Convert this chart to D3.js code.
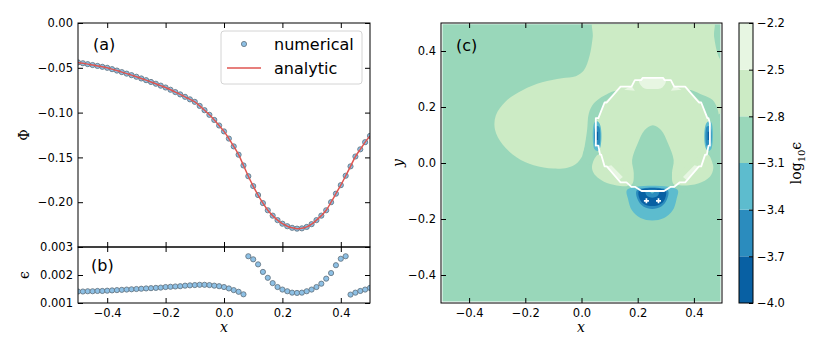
<!DOCTYPE html>
<html>
<head>
<meta charset="utf-8">
<script src="https://cdn.jsdelivr.net/npm/d3@7"></script>
<style>
	body { margin: 0; background: #fff; }
	svg { display: block; }
	text { font-family: "DejaVu Sans", sans-serif; fill: #000; }
	.tick text { font-size: 11.5px; }
	.math { font-family: "DejaVu Serif", serif; }
</style>
</head>
<body>
<svg id="fig" width="830" height="356"></svg>
<script>
'use strict';

// ---- line cut along y = 0 : panels (a) and (b) ----
var xs = [-0.5000, -0.4833, -0.4667, -0.4500, -0.4333, -0.4167, -0.4000, -0.3833, -0.3667, -0.3500,
	-0.3333, -0.3167, -0.3000, -0.2833, -0.2667, -0.2500, -0.2333, -0.2167, -0.2000, -0.1833,
	-0.1667, -0.1500, -0.1333, -0.1167, -0.1000, -0.0833, -0.0667, -0.0500, -0.0333, -0.0167,
	0.0000, 0.0167, 0.0333, 0.0500, 0.0667, 0.0833, 0.1000, 0.1167, 0.1333, 0.1500,
	0.1667, 0.1833, 0.2000, 0.2167, 0.2333, 0.2500, 0.2667, 0.2833, 0.3000, 0.3167,
	0.3333, 0.3500, 0.3667, 0.3833, 0.4000, 0.4167, 0.4333, 0.4500, 0.4667, 0.4833, 0.5000];

var phiNumerical = [-0.0440, -0.0449, -0.0459, -0.0469, -0.0479, -0.0489, -0.0500, -0.0515, -0.0531, -0.0548,
	-0.0565, -0.0582, -0.0600, -0.0619, -0.0638, -0.0658, -0.0678, -0.0699, -0.0720, -0.0745,
	-0.0771, -0.0797, -0.0824, -0.0852, -0.0880, -0.0925, -0.0973, -0.1025, -0.1082, -0.1144,
	-0.1210, -0.1290, -0.1377, -0.1470, -0.1590, -0.1710, -0.1820, -0.1920, -0.2010, -0.2090,
	-0.2150, -0.2200, -0.2240, -0.2268, -0.2286, -0.2295, -0.2292, -0.2276, -0.2245, -0.2200,
	-0.2150, -0.2090, -0.2000, -0.1905, -0.1810, -0.1705, -0.1600, -0.1490, -0.1410, -0.1330, -0.1260];

// analytic curve sits on top of the numerical points
var phiAnalytic = phiNumerical.slice();

var epsNumerical = [0.00141, 0.00141, 0.00142, 0.00142, 0.00143, 0.00143, 0.00144, 0.00145, 0.00146, 0.00147,
	0.00148, 0.00149, 0.00150, 0.00151, 0.00152, 0.00153, 0.00154, 0.00155, 0.00157, 0.00158,
	0.00159, 0.00160, 0.00162, 0.00163, 0.00164, 0.00165, 0.00165, 0.00164, 0.00162, 0.00160,
	0.00157, 0.00152, 0.00146, 0.00140, 0.00131, 0.00267, 0.00256, 0.00238, 0.00211, 0.00190,
	0.00171, 0.00157, 0.00148, 0.00142, 0.00137, 0.00136, 0.00137, 0.00142, 0.00148, 0.00157,
	0.00169, 0.00187, 0.00207, 0.00235, 0.00258, 0.00267, 0.00130, 0.00137, 0.00143, 0.00148, 0.00154];

var xTicks = [-0.4, -0.2, 0.0, 0.2, 0.4];
var phiTicks = [0.00, -0.05, -0.10, -0.15, -0.20];
var epsTicks = [0.001, 0.002, 0.003];
var yTicksC = [-0.4, -0.2, 0.0, 0.2, 0.4];

// ---- panel (c): filled contours of log10(eps) ----
var bandLevels = [-4.0, -3.7, -3.4, -3.1, -2.8, -2.5, -2.2];
var bandColors = ['#0860a3', '#2b8cbe', '#5dbcce', '#99d7ba', '#ccebc5', '#e7f6e2'];

// contour outlines, in (x, y) data units
var fieldRegion = [[-0.5, -0.5], [0.5, -0.5], [0.5, 0.5], [-0.5, 0.5]];
var lightLobe = [[0.045, 0.52], [0.466, 0.52], [0.472, 0.45], [0.488, 0.38], [0.52, 0.33], [0.52, 0.2],
	[0.3, 0.12], [0.1, 0.1], [0.02, 0.07], [0.003, 0.025], [-0.02, -0.004], [-0.05, -0.017],
	[-0.1, -0.02], [-0.17, -0.008], [-0.23, 0.02], [-0.28, 0.065], [-0.308, 0.12], [-0.305, 0.17],
	[-0.27, 0.22], [-0.21, 0.26], [-0.14, 0.288], [-0.07, 0.303], [-0.02, 0.31], [0.008, 0.33],
	[0.028, 0.38], [0.04, 0.45]];
var haloLeft = [[0.127, 0.258], [0.08, 0.24], [0.044, 0.213], [0.026, 0.177], [0.02, 0.118],
	[0.011, 0.058], [0.004, 0.02], [0.02, -0.002], [0.045, -0.006], [0.1, 0.03], [0.12, 0.15], [0.15, 0.24]];
var haloRight = [[0.377, 0.261], [0.431, 0.243], [0.467, 0.225], [0.485, 0.189], [0.49, 0.154],
	[0.497, 0.08], [0.496, 0.0], [0.47, -0.02], [0.42, 0.0], [0.4, 0.1], [0.36, 0.24]];
var innerDisc = [[0.457, 0.142], [0.426, 0.216], [0.369, 0.273], [0.294, 0.304], [0.214, 0.304],
	[0.139, 0.273], [0.082, 0.216], [0.051, 0.142], [0.051, 0.062], [0.082, -0.012],
	[0.139, -0.069], [0.214, -0.100], [0.294, -0.100], [0.369, -0.069], [0.426, -0.012], [0.457, 0.062]];
// the drawn boundary is pixel-stepped, unlike the smooth disc
var boundary = [[0.457, 0.142], [0.452, 0.16], [0.448, 0.16], [0.426, 0.216], [0.418, 0.216],
	[0.369, 0.273], [0.33, 0.273], [0.318, 0.296], [0.296, 0.296], [0.29, 0.304], [0.218, 0.304],
	[0.212, 0.296], [0.19, 0.296], [0.178, 0.273], [0.139, 0.273], [0.09, 0.216], [0.082, 0.216],
	[0.06, 0.16], [0.051, 0.16], [0.051, 0.062], [0.06, 0.062], [0.066, 0.03], [0.07, 0.03],
	[0.082, -0.012], [0.09, -0.012], [0.139, -0.069], [0.16, -0.069], [0.178, -0.085], [0.19, -0.085],
	[0.214, -0.100], [0.294, -0.100], [0.318, -0.085], [0.33, -0.085], [0.35, -0.069], [0.369, -0.069],
	[0.418, -0.012], [0.426, -0.012], [0.44, 0.03], [0.446, 0.03], [0.452, 0.062], [0.457, 0.062]];
var tongue = [[0.13, -0.1], [0.14, -0.083], [0.18, -0.076], [0.186, -0.037], [0.18, 0.011],
	[0.2, 0.07], [0.225, 0.118], [0.254, 0.135], [0.283, 0.118], [0.308, 0.07], [0.328, 0.011],
	[0.322, -0.037], [0.328, -0.076], [0.368, -0.083], [0.378, -0.1]];
var earLeft = [[0.04, 0.0], [0.038, -0.022], [0.05, -0.045], [0.08, -0.067], [0.125, -0.08],
	[0.165, -0.08], [0.17, -0.05], [0.1, 0.02], [0.06, 0.03]];
var earRight = [[0.466, 0.0], [0.469, -0.02], [0.457, -0.049], [0.415, -0.073], [0.356, -0.08],
	[0.335, -0.075], [0.338, -0.05], [0.41, 0.02], [0.45, 0.03]];
var paleTop = [[0.205, 0.296], [0.3, 0.296], [0.288, 0.27], [0.254, 0.264], [0.218, 0.27]];
var paleTopLeft = [[0.152, 0.262], [0.178, 0.276], [0.19, 0.258]];
var paleTopRight = [[0.356, 0.262], [0.33, 0.276], [0.318, 0.258]];
var paleLowLeft = [[0.092, -0.012], [0.106, -0.008], [0.147, -0.05], [0.135, -0.06]];
var paleLowRight = [[0.416, -0.012], [0.402, -0.008], [0.361, -0.05], [0.373, -0.06]];
var streakLeftOuter = [[0.046, 0.145], [0.058, 0.148], [0.068, 0.13], [0.068, 0.06], [0.058, 0.043], [0.046, 0.05]];
var streakLeftMid = [[0.05, 0.13], [0.062, 0.13], [0.062, 0.06], [0.05, 0.06]];
var streakLeftCore = [[0.054, 0.112], [0.059, 0.112], [0.059, 0.082], [0.054, 0.082]];
var streakRightOuter = [[0.462, 0.145], [0.45, 0.148], [0.44, 0.13], [0.44, 0.06], [0.45, 0.043], [0.462, 0.05]];
var streakRightMid = [[0.458, 0.13], [0.446, 0.13], [0.446, 0.06], [0.458, 0.06]];
var streakRightCore = [[0.454, 0.112], [0.449, 0.112], [0.449, 0.082], [0.454, 0.082]];
var padOuter = [[0.163, -0.095], [0.166, -0.13], [0.18, -0.17], [0.21, -0.196], [0.252, -0.205],
	[0.294, -0.196], [0.324, -0.17], [0.338, -0.13], [0.341, -0.095]];
var padMid = [[0.197, -0.097], [0.2, -0.13], [0.22, -0.155], [0.252, -0.164], [0.284, -0.155],
	[0.304, -0.13], [0.307, -0.097]];
var padCore = [[0.205, -0.099], [0.208, -0.13], [0.225, -0.148], [0.252, -0.154], [0.279, -0.148],
	[0.296, -0.13], [0.299, -0.099]];
var padHole = [[0.228, -0.099], [0.232, -0.116], [0.252, -0.124], [0.272, -0.116], [0.276, -0.099]];
var padDot = [[0.242, -0.099], [0.252, -0.109], [0.262, -0.099]];
var sources = [[0.231, -0.135], [0.274, -0.135]];
var cbTicks = [-4.0, -3.7, -3.4, -3.1, -2.8, -2.5, -2.2];

// draw order, with the log10(eps) value that fills each outline
var layers = [
	[fieldRegion, -2.95, false],
	[lightLobe, -2.65, true],
	[haloLeft, -2.95, true],
	[haloRight, -2.95, true],
	[innerDisc, -2.65, false],
	[tongue, -2.95, true],
	[earLeft, -2.65, true],
	[earRight, -2.65, true],
	[paleTop, -2.35, true],
	[paleTopLeft, -2.35, false],
	[paleTopRight, -2.35, false],
	[paleLowLeft, -2.35, false],
	[paleLowRight, -2.35, false],
	[streakLeftOuter, -3.25, true],
	[streakRightOuter, -3.25, true],
	[streakLeftMid, -3.55, true],
	[streakRightMid, -3.55, true],
	[streakLeftCore, -3.85, false],
	[streakRightCore, -3.85, false],
	[padOuter, -3.25, true],
	[padMid, -3.55, true],
	[padCore, -3.85, true],
	[padHole, -3.55, true],
	[padDot, -3.25, true]
];

var svg = d3.select('#fig');
svg.append('rect').attr('width', 830).attr('height', 356).attr('fill', '#fff');

var tick = 5;

// inward ticks on all four sides of a box
function frame(g, x, y, xt, yt, fx, fy, opts) {
	var x0 = x.range()[0], x1 = x.range()[1], y0 = y.range()[1], y1 = y.range()[0];
	var bottom = d3.axisBottom(x).tickValues(xt).tickSize(-tick).tickPadding(6).tickSizeOuter(0)
		.tickFormat(opts.xLabels ? fx : '');
	var top = d3.axisTop(x).tickValues(xt).tickSize(-tick).tickSizeOuter(0).tickFormat('');
	var left = d3.axisLeft(y).tickValues(yt).tickSize(-tick).tickPadding(5).tickSizeOuter(0).tickFormat(fy);
	var right = d3.axisRight(y).tickValues(yt).tickSize(-tick).tickSizeOuter(0).tickFormat('');
	[[bottom, 'translate(0,' + y1 + ')'], [top, 'translate(0,' + y0 + ')'],
		[left, 'translate(' + x0 + ',0)'], [right, 'translate(' + x1 + ',0)']].forEach(function (a) {
		var ax = g.append('g').attr('transform', a[1]).call(a[0]);
		ax.select('.domain').remove();
		ax.selectAll('.tick line').attr('stroke', '#000').attr('stroke-width', 1);
		ax.selectAll('.tick text').attr('font-family', null).attr('font-size', null);
	});
	g.append('rect')
		.attr('x', x0).attr('y', y0)
		.attr('width', x1 - x0).attr('height', y1 - y0)
		.attr('fill', 'none').attr('stroke', '#000').attr('stroke-width', 1);
}

// ---------- panel (a) ----------
var xA = d3.scaleLinear().domain([-0.5, 0.5]).range([78, 370]);
var yA = d3.scaleLinear().domain([-0.25, 0]).range([247, 23]);
var yB = d3.scaleLinear().domain([0.001, 0.003]).range([303, 247]);

var defs = svg.append('defs');
defs.append('clipPath').attr('id', 'clipA').append('rect')
	.attr('x', 78).attr('y', 23).attr('width', 292).attr('height', 224);
defs.append('clipPath').attr('id', 'clipB').append('rect')
	.attr('x', 78).attr('y', 247).attr('width', 292).attr('height', 56);

var pa = svg.append('g');
var pts = xs.map(function (x, i) { return { x: x, phi: phiNumerical[i], an: phiAnalytic[i], eps: epsNumerical[i] }; });

pa.append('g').attr('clip-path', 'url(#clipA)')
	.selectAll('circle')
	.data(pts)
	.enter()
	.append('circle')
	.attr('cx', function (d) { return xA(d.x); })
	.attr('cy', function (d) { return yA(d.phi); })
	.attr('r', 2.6)
	.attr('fill', '#8dc0e5')
	.attr('stroke', '#5f6f7a')
	.attr('stroke-width', 0.8);

pa.append('path')
	.datum(pts)
	.attr('clip-path', 'url(#clipA)')
	.attr('fill', 'none')
	.attr('stroke', '#df5550')
	.attr('stroke-width', 1.5)
	.attr('d', d3.line()
		.x(function (d) { return xA(d.x); })
		.y(function (d) { return yA(d.an); })
		.curve(d3.curveCatmullRom));

frame(pa, xA, yA, xTicks, phiTicks, d3.format('.1f'), d3.format('.2f'), { xLabels: false });

pa.append('text').attr('x', 93).attr('y', 50).attr('font-size', 16).text('(a)');
pa.append('text').attr('class', 'math')
	.attr('transform', 'translate(29,135) rotate(-90)')
	.attr('text-anchor', 'middle').attr('font-size', 14).text('Φ');

// legend
var lg = pa.append('g');
lg.append('rect')
	.attr('x', 221).attr('y', 31).attr('width', 141).attr('height', 53).attr('rx', 3)
	.attr('fill', '#fff').attr('fill-opacity', 0.8)
	.attr('stroke', '#d4d4d4').attr('stroke-width', 1);
lg.append('circle').attr('cx', 244).attr('cy', 44).attr('r', 2.6)
	.attr('fill', '#8dc0e5').attr('stroke', '#5f6f7a').attr('stroke-width', 0.8);
lg.append('line').attr('x1', 227).attr('x2', 261).attr('y1', 68).attr('y2', 68)
	.attr('stroke', '#df5550').attr('stroke-width', 1.5);
lg.append('text').attr('x', 274).attr('y', 50).attr('font-size', 16).text('numerical');
lg.append('text').attr('x', 274).attr('y', 74).attr('font-size', 16).text('analytic');

// ---------- panel (b) ----------
var pb = svg.append('g');
pb.append('g').attr('clip-path', 'url(#clipB)')
	.selectAll('circle')
	.data(pts)
	.enter()
	.append('circle')
	.attr('cx', function (d) { return xA(d.x); })
	.attr('cy', function (d) { return yB(d.eps); })
	.attr('r', 2.6)
	.attr('fill', '#8dc0e5')
	.attr('stroke', '#5f6f7a')
	.attr('stroke-width', 0.8);

frame(pb, xA, yB, xTicks, epsTicks, d3.format('.1f'), d3.format('.3f'), { xLabels: true });

pb.append('text').attr('x', 91).attr('y', 271).attr('font-size', 16).text('(b)');
pb.append('text').attr('class', 'math')
	.attr('transform', 'translate(29,275) rotate(-90)')
	.attr('text-anchor', 'middle').attr('font-size', 14).text('ϵ');
pb.append('text').attr('class', 'math')
	.attr('x', 224).attr('y', 332).attr('text-anchor', 'middle')
	.attr('font-size', 14).attr('font-style', 'italic').text('x');

// ---------- panel (c) ----------
var xC = d3.scaleLinear().domain([-0.5, 0.5]).range([441, 722]);
var yC = d3.scaleLinear().domain([-0.5, 0.5]).range([303, 23]);
var color = d3.scaleThreshold().domain(bandLevels.slice(1, -1)).range(bandColors);

defs.append('clipPath').attr('id', 'clipC').append('rect')
	.attr('x', 442.5).attr('y', 24.2).attr('width', 278).attr('height', 277.3);

var smooth = d3.line()
	.x(function (d) { return xC(d[0]); })
	.y(function (d) { return yC(d[1]); })
	.curve(d3.curveCatmullRomClosed.alpha(0.5));
var straight = d3.line()
	.x(function (d) { return xC(d[0]); })
	.y(function (d) { return yC(d[1]); })
	.curve(d3.curveLinearClosed);

var pc = svg.append('g');
var field = pc.append('g').attr('clip-path', 'url(#clipC)');

field.selectAll('path')
	.data(layers)
	.enter()
	.append('path')
	.attr('d', function (d) { return d[2] ? smooth(d[0]) : straight(d[0]); })
	.attr('fill', function (d) { return color(d[1]); });

// boundary of the inclusion
field.append('path')
	.attr('d', straight(boundary))
	.attr('fill', 'none')
	.attr('stroke', '#fff')
	.attr('stroke-width', 1.8)
	.attr('stroke-linejoin', 'round');

field.selectAll('path.src')
	.data(sources)
	.enter()
	.append('path')
	.attr('class', 'src')
	.attr('transform', function (d) { return 'translate(' + xC(d[0]) + ',' + yC(d[1]) + ')'; })
	.attr('d', d3.symbol(d3.symbolCross).size(14))
	.attr('fill', '#fff');

frame(pc, xC, yC, xTicks, yTicksC, d3.format('.1f'), d3.format('.1f'), { xLabels: true });

pc.append('text').attr('x', 456).attr('y', 51).attr('font-size', 16).text('(c)');
pc.append('text').attr('class', 'math')
	.attr('transform', 'translate(403,163) rotate(-90)')
	.attr('text-anchor', 'middle').attr('font-size', 14).attr('font-style', 'italic').text('y');
pc.append('text').attr('class', 'math')
	.attr('x', 581).attr('y', 332).attr('text-anchor', 'middle')
	.attr('font-size', 14).attr('font-style', 'italic').text('x');

// ---------- colorbar ----------
var yCb = d3.scaleLinear().domain([-4.0, -2.2]).range([303, 23]);
var cb = svg.append('g');
var bands = d3.pairs(bandLevels);

cb.selectAll('rect.band')
	.data(bands)
	.enter()
	.append('rect')
	.attr('class', 'band')
	.attr('x', 739)
	.attr('width', 14)
	.attr('y', function (d) { return yCb(d[1]); })
	.attr('height', function (d) { return yCb(d[0]) - yCb(d[1]); })
	.attr('fill', function (d) { return color((d[0] + d[1]) / 2); });

var cbAxis = cb.append('g')
	.attr('transform', 'translate(753,0)')
	.call(d3.axisRight(yCb).tickValues(cbTicks).tickSize(-4).tickPadding(4).tickFormat(d3.format('.1f')));
cbAxis.select('.domain').remove();
cbAxis.selectAll('.tick line').attr('stroke', '#000').attr('stroke-width', 1);
cbAxis.selectAll('.tick text').attr('font-family', null).attr('font-size', null);

cb.append('rect')
	.attr('x', 739).attr('y', 23).attr('width', 14).attr('height', 280)
	.attr('fill', 'none').attr('stroke', '#000').attr('stroke-width', 1);

var cbl = cb.append('text').attr('class', 'math')
	.attr('transform', 'translate(801,163) rotate(-90)')
	.attr('text-anchor', 'middle').attr('font-size', 14);
cbl.append('tspan').text('log');
cbl.append('tspan').attr('font-size', 10).attr('dy', 4).text('10');
cbl.append('tspan').attr('dy', -4).text('ϵ');
</script>
</body>
</html>
